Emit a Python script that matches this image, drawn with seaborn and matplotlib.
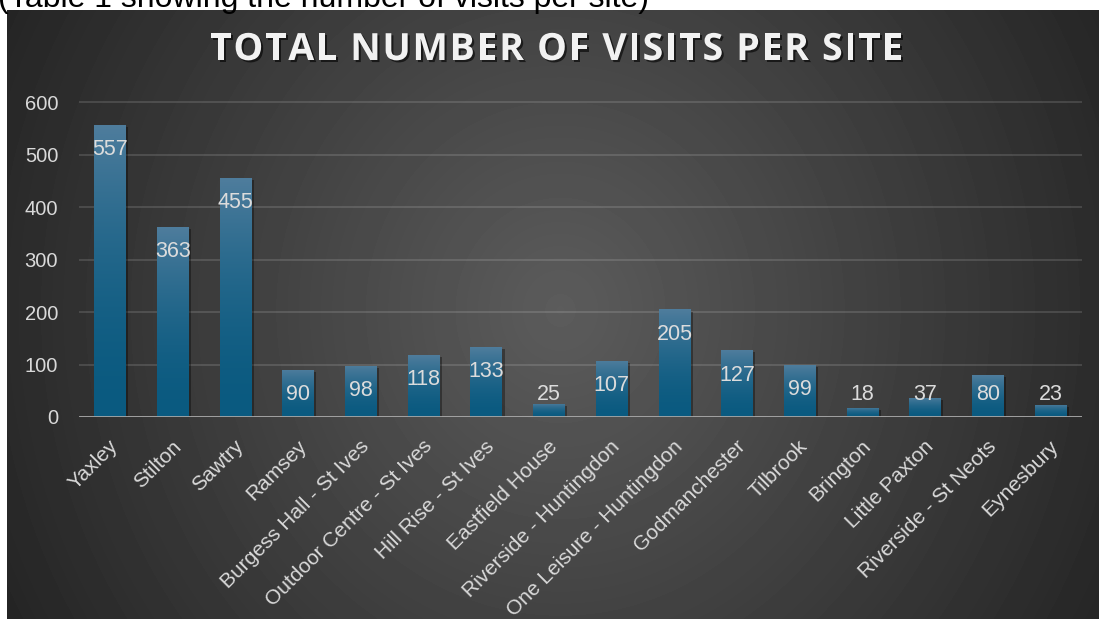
import numpy as np
import pandas as pd
import matplotlib
matplotlib.use('Agg')
import matplotlib.pyplot as plt
import matplotlib.patheffects as pe
import matplotlib.transforms as mtransforms
from matplotlib.colors import to_rgb
import seaborn as sns

# Data
sites = ['Yaxley', 'Stilton', 'Sawtry', 'Ramsey', 'Burgess Hall - St Ives',
         'Outdoor Centre - St Ives', 'Hill Rise - St Ives', 'Eastfield House',
         'Riverside - Huntingdon', 'One Leisure - Huntingdon', 'Godmanchester',
         'Tilbrook', 'Brington', 'Little Paxton', 'Riverside - St Neots', 'Eynesbury']
visits = [557, 363, 455, 90, 98, 118, 133, 25, 107, 205, 127, 99, 18, 37, 80, 23]
y_ticks = [0, 100, 200, 300, 400, 500, 600]

title = 'TOTAL NUMBER OF VISITS PER SITE'
caption = '(Table 1 showing the number of visits per site)'

W, H = 1099, 619
sns.set_theme(style='white')
plt.rcParams['font.family'] = ['Liberation Sans', 'DejaVu Sans']

fig = plt.figure(figsize=(W / 100, H / 100), dpi=100, facecolor='white')

# dark panel with a radial gradient
bg = fig.add_axes([7 / W, 0, 1 - 7 / W, (H - 10) / H], zorder=0)
yy, xx = np.mgrid[0:609, 0:1092]
d = np.sqrt(((xx - 553) / 540) ** 2 + ((yy - 300) / 580) ** 2)
shade = np.clip(92 - 48 * d, 34, 92) / 255
bg.imshow(shade, cmap='gray', vmin=0, vmax=1, aspect='auto', interpolation='bilinear')
bg.axis('off')

# caption above the panel (cut off at the top, as in the source)
fig.text(-0.002, 1 - 7.5 / H, caption, fontsize=23, color='black', ha='left', va='baseline')

# main chart
ax = fig.add_axes([79 / W, (H - 417) / H, 1003 / W, 320 / H], zorder=1)
ax.patch.set_alpha(0)
df = pd.DataFrame({'site': sites, 'visits': visits})
sns.barplot(data=df, x='site', y='visits', color='#1f6690', width=0.51,
            saturation=1, linewidth=0, edgecolor='none', ax=ax, zorder=2)

# vertical gradient fill for each bar
top_c = np.array(to_rgb('#4f7d9d'))
bot_c = np.array(to_rgb('#0a5a80'))
t = np.linspace(1, 0, 256)[:, None]
ramp = bot_c + (top_c - bot_c) * (t ** 1.8)[..., None]
for bar in ax.patches:
    x0, y0 = bar.get_x(), bar.get_y()
    w, h = bar.get_width(), bar.get_height()
    bar.set_path_effects([pe.SimplePatchShadow(offset=(1.5, -1.5), shadow_rgbFace='black', alpha=0.35),
                          pe.Normal()])
    im = ax.imshow(ramp, extent=[x0, x0 + w, y0, y0 + h], aspect='auto',
                   zorder=2.5, interpolation='bilinear')
    im.set_clip_path(bar)

ax.set_xlim(-0.5, len(sites) - 0.5)
ax.set_ylim(0, 610)
ax.set_yticks(y_ticks)

# data labels, inside the top of each bar
for i, v in enumerate(visits):
    ax.text(i, max(v - 47, 42), str(v), ha='center', va='center',
            fontsize=15.5, color='#dcdcdc', zorder=4)

ax.yaxis.grid(True, color='white', alpha=0.13, lw=1.5)
ax.xaxis.grid(False)
ax.set_axisbelow(True)
ax.axhline(0, color='#a8a8a8', lw=2, zorder=3)
for s in ax.spines.values():
    s.set_visible(False)

ax.set_xlabel('')
ax.set_ylabel('')
ax.tick_params(axis='y', length=0, pad=15, labelsize=14.5, labelcolor='#d9d9d9')
ax.tick_params(axis='x', length=0, pad=19, labelsize=15, labelcolor='#d9d9d9')
ax.set_xticks(range(len(sites)))
ax.set_xticklabels(sites, rotation=45, ha='right', va='center', rotation_mode='anchor')
offset = mtransforms.ScaledTranslation(5 / 100, 0, fig.dpi_scale_trans)
for lab in ax.get_xticklabels():
    lab.set_transform(lab.get_transform() + offset)

# letter-spaced title, drawn char by char
fig.canvas.draw()
r = fig.canvas.get_renderer()
tkw = dict(fontsize=27, fontweight='bold', family=['Open Sans', 'DejaVu Sans'], color='#f2f2f2')


def text_w(s):
    tt = fig.text(0, 0, s, **tkw)
    w = tt.get_window_extent(r).width
    tt.remove()
    return w


bar_w = text_w('||')
adv = [text_w('|' + ch + '|') - bar_w for ch in title]
last_w = text_w(title[-1])
left_px, right_px = 210, 903
gap = (right_px - left_px - sum(adv[:-1]) - last_w) / (len(title) - 1)
xpos = left_px
shadow = [pe.withSimplePatchShadow(offset=(1.5, -1.5), shadow_rgbFace='black', alpha=0.6)]
for ch, a in zip(title, adv):
    if ch != ' ':
        fig.text(xpos / W, 1 - 50 / H, ch, ha='left', va='center', path_effects=shadow, **tkw)
    xpos += a + gap

fig.savefig('out.png', dpi=100, facecolor='white')
